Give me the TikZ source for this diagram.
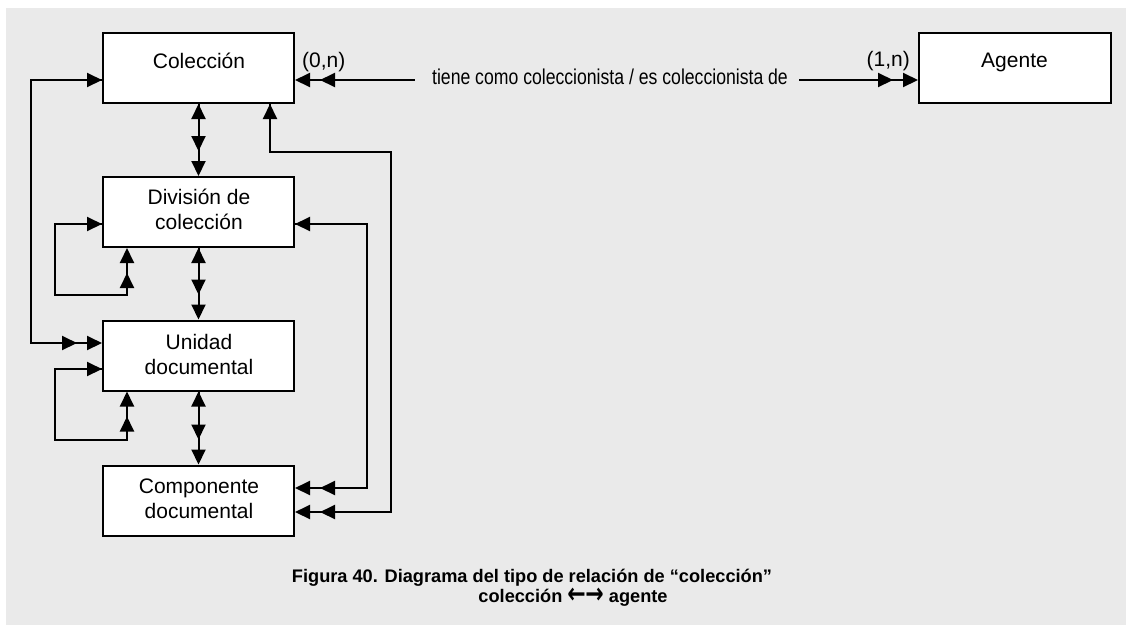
\documentclass[tikz,border=0pt]{standalone}
\usepackage{fontspec}
\setmainfont{Liberation Sans}
\newfontfamily\arrowfont{DejaVu Sans}
\usetikzlibrary{arrows.meta}
\definecolor{bg}{RGB}{234,234,234}
\begin{document}
\begin{tikzpicture}[x=1pt,y=-1pt,
  conn/.style={line width=2pt},
  Tri/.tip={Triangle[length=15pt,width=14pt]},
  box/.style={draw,line width=2pt,fill=white,minimum width=191pt,minimum height=70pt,inner sep=0pt},
  lbl/.style={font=\fontsize{21}{25}\selectfont,inner sep=0pt,anchor=base},
  captxt/.style={font=\bfseries\fontsize{18.2}{20}\selectfont,inner sep=0pt,anchor=base}]
\useasboundingbox (0,0) rectangle (1126,625);
\fill[white] (0,0) rectangle (1126,625);
\fill[bg] (6,8) rectangle (1126,625);

% boxes
\node[box] (col) at (198.5,68) {};
\node[box] (div) at (198.5,212) {};
\node[box] (uni) at (198.5,355.5) {};
\node[box] (comp) at (198.5,500.5) {};
\node[box,minimum width=192pt] (age) at (1015,67.5) {};

% box texts
\node[lbl] (colT) at (199,68) {Colección};
\node[lbl] (ageT) at (1014.5,67) {Agente};
\node[lbl] (divT) at (199,204) {\begin{tabular}[t]{@{}c@{}}División de\\colección\end{tabular}};
\node[lbl] (uniT) at (199,349) {\begin{tabular}[t]{@{}c@{}}Unidad\\documental\end{tabular}};
\node[lbl] (compT) at (199,493) {\begin{tabular}[t]{@{}c@{}}Componente\\documental\end{tabular}};

% vertical links
\draw[conn,{Tri}-{Tri}] (col.south) -- (div.north);
\draw[conn,-{Tri},shorten >=25pt] (col.south) -- (div.north);
\draw[conn,{Tri}-{Tri}] (div.south) -- (uni.north);
\draw[conn,-{Tri},shorten >=25pt] (div.south) -- (uni.north);
\draw[conn,{Tri}-{Tri}] (uni.south) -- (comp.north);
\draw[conn,-{Tri},shorten >=25pt] (uni.south) -- (comp.north);

% left: coleccion - unidad
\draw[conn,{Tri}-{Tri}] ([yshift=-12pt]col.west) -| (31,343) -- ([yshift=12.5pt]uni.west);
\draw[conn,-{Tri},shorten >=25pt] ([yshift=-12pt]col.west) -| (31,343) -- ([yshift=12.5pt]uni.west);

% self loops
\draw[conn,{Tri}-{Tri}] ([yshift=-12pt]div.west) -| (55,295) -| ([xshift=25pt]div.south west);
\draw[conn,-{Tri},shorten >=25pt] ([yshift=-12pt]div.west) -| (55,295) -| ([xshift=25pt]div.south west);
\draw[conn,{Tri}-{Tri}] ([yshift=-13.5pt]uni.west) -| (55,440) -| ([xshift=25pt]uni.south west);
\draw[conn,-{Tri},shorten >=25pt] ([yshift=-13.5pt]uni.west) -| (55,440) -| ([xshift=25pt]uni.south west);

% right: coleccion - componente
\draw[conn,{Tri}-{Tri}] ([xshift=-25pt]col.south east) |- (391,152) |- ([yshift=-11.5pt]comp.east);
\draw[conn,-{Tri},shorten >=25pt] ([xshift=-25pt]col.south east) |- (391,152) |- ([yshift=-11.5pt]comp.east);

% right: division - componente
\draw[conn,{Tri}-{Tri}] ([yshift=-12pt]div.east) -| (367,488) -- ([yshift=12.5pt]comp.east);
\draw[conn,-{Tri},shorten >=25pt] ([yshift=-12pt]div.east) -| (367,488) -- ([yshift=12.5pt]comp.east);

% coleccion - agente
\coordinate (cA) at ([yshift=-12pt]col.east);
\coordinate (aA) at ([yshift=-12.5pt]age.west);
\node[lbl,font=\fontsize{21.5}{25}\selectfont] (rel) at (610,84) {\scalebox{0.82}[1]{tiene como coleccionista / es coleccionista de}};
\draw[conn,-{Tri}] ([xshift=-17pt]rel.west |- cA) -- (cA);
\draw[conn,-{Tri},shorten >=25pt] ([xshift=-17pt]rel.west |- cA) -- (cA);
\draw[conn,-{Tri}] ([xshift=11pt]rel.east |- aA) -- (aA);
\draw[conn,-{Tri},shorten >=25pt] ([xshift=11pt]rel.east |- aA) -- (aA);
\node[lbl,anchor=base west] (l0) at (302,67) {(0,n)};
\node[lbl,anchor=base east] (l1) at (910,66) {(1,n)};

% caption
\node[captxt] (cap) at (532,582) {\begin{tabular}[t]{@{}c@{}}Figura 40. Diagrama del tipo de relación de “colección”\\\hspace*{82pt}colección {\arrowfont\bfseries\fontsize{22}{20}\selectfont\smash{\raisebox{-1.5pt}{\scalebox{1}[1.3]{←\kern-0.5pt→}}}} agente\end{tabular}};
\end{tikzpicture}
\end{document}
